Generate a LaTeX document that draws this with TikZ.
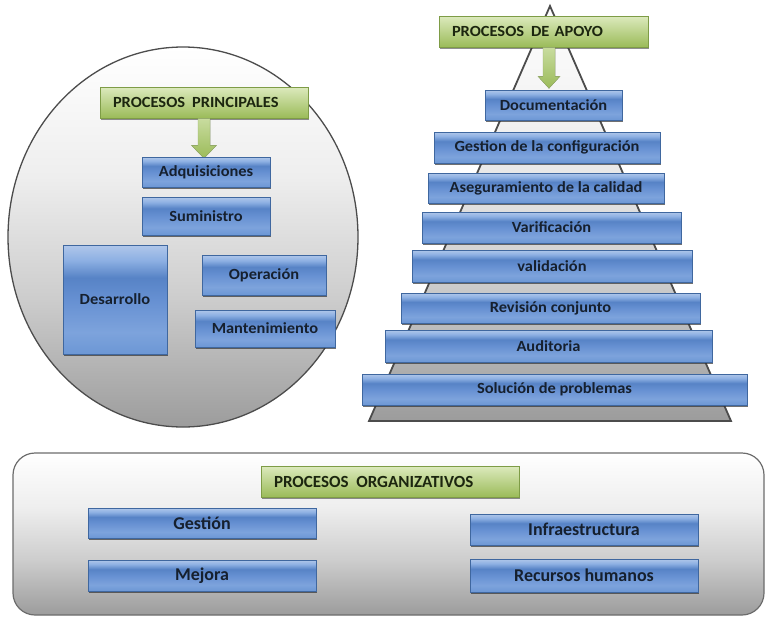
\documentclass[tikz,border=0pt]{standalone}
\usepackage{fontspec}
\setmainfont{Carlito}
\newfontfamily\widefont[FakeStretch=1.06]{Carlito}
\usetikzlibrary{shadows}

\definecolor{bandtop}{HTML}{B0C7EA}
\definecolor{bandhi}{HTML}{8DB0E3}
\definecolor{banddark}{HTML}{5783C6}
\definecolor{bandmid}{HTML}{6690D2}
\definecolor{bandlight}{HTML}{7DA3DC}
\definecolor{bandbot}{HTML}{6C97D5}
\definecolor{blueedge}{HTML}{3F679F}
\definecolor{greentop}{HTML}{DCEABD}
\definecolor{greenbot}{HTML}{9BBB59}
\definecolor{greenedge}{HTML}{7E9C46}
\definecolor{labelink}{HTML}{16202E}
\definecolor{headink}{HTML}{1C260F}
\definecolor{outline}{HTML}{4C4C4C}
\definecolor{lowgray}{HTML}{9C9C9C}
\definecolor{softgray}{HTML}{CDCDCD}
\definecolor{palegray}{HTML}{EEEEEE}

% glossy bar used by every process box (stops sit in the 25--75bp band)
\pgfdeclareverticalshading{bluebar}{100bp}{%
  color(0bp)=(bandbot); color(25bp)=(bandbot); color(35bp)=(bandlight);
  color(50bp)=(bandmid); color(60bp)=(banddark); color(68bp)=(bandhi);
  color(75bp)=(bandtop); color(100bp)=(bandtop)}
% light-to-grey fade of the three background panels
\pgfdeclareverticalshading{panelfade}{100bp}{%
  color(0bp)=(lowgray); color(25bp)=(lowgray); color(42bp)=(softgray);
  color(58bp)=(palegray); color(75bp)=(white); color(100bp)=(white)}

\tikzset{
  procbox/.style={draw=blueedge, line width=0.6pt, shade, shading=bluebar,
    drop shadow={shadow xshift=1.2pt, shadow yshift=-2pt, fill=black!80, opacity=0.7},
    inner sep=0pt, text=labelink, font=\widefont\bfseries\fontsize{15.5}{18}\selectfont},
  orgbox/.style={procbox, font=\bfseries\fontsize{18}{21}\selectfont},
  header/.style={draw=greenedge, line width=0.6pt, top color=greentop, bottom color=greenbot,
    drop shadow={shadow xshift=1.2pt, shadow yshift=-2pt, fill=black!80, opacity=0.55},
    inner xsep=13pt, inner ysep=0pt, align=left, text=headink,
    font=\widefont\bfseries\fontsize{15.5}{18}\selectfont},
  orghead/.style={header, font=\bfseries\fontsize{17}{20}\selectfont},
  blockarrow/.style={top color=greentop!70!greenbot, bottom color=greenbot, draw=greenedge!80, line width=0.4pt},
  panel/.style={draw=outline, line width=1.3pt, shade, shading=panelfade},
}
\newcommand{\gap}{\hspace{0.45em}}

\begin{document}
\begin{tikzpicture}[x=1pt,y=-1pt]
\useasboundingbox (0,0) rectangle (766,619);

% ---- main processes: round panel ----
\path[panel] (183,237) ellipse [x radius=175pt, y radius=190pt];

\node[header, text width=182pt, minimum height=31pt] (pp) at (204,102.5) {PROCESOS\gap PRINCIPALES};
\fill[blockarrow, shift={(pp.south)}]
  (-6,0) -- (-6,27) -- (-12.5,27) -- (0,40) -- (12.5,27) -- (6,27) -- (6,0) -- cycle;

\node[procbox, minimum width=128pt, minimum height=30pt]  (adq) at (206,172)   {Adquisiciones};
\node[procbox, minimum width=128pt, minimum height=38pt]  (sum) at (206,216)   {Suministro};
\node[procbox, minimum width=104pt, minimum height=109pt] (des) at (115,299.5) {Desarrollo};
\node[procbox, minimum width=124pt, minimum height=40pt]  (ope) at (264,275)   {Operación};
\node[procbox, minimum width=140pt, minimum height=37pt]  (man) at (265,328.5) {Mantenimiento};

% ---- support processes: stepped pyramid ----
\path[panel, line width=1.8pt] (550,6) -- (731,421) -- (369,421) -- cycle;

\node[header, text width=183pt, minimum height=31pt] (pa) at (543.5,31.5) {PROCESOS\gap DE APOYO};
\fill[blockarrow, shift={(pa.south)}]
  (-0.5,0) -- (-0.5,29) -- (-5.5,29) -- (5.5,41) -- (16.5,29) -- (11.5,29) -- (11.5,0) -- cycle;

\node[procbox, minimum width=137pt, minimum height=30pt] (doc) at (553.5,105)   {Documentación};
\node[procbox, minimum width=226pt, minimum height=31pt] (gco) at (547,147.5)   {Gestion de la configuración};
\node[procbox, minimum width=236pt, minimum height=30pt] (ase) at (546,188)     {Aseguramiento de la calidad};
\node[procbox, minimum width=259pt, minimum height=31pt] (var) at (551.5,227.5) {Varificación};
\node[procbox, minimum width=280pt, minimum height=32pt] (val) at (552,266)     {validación};
\node[procbox, minimum width=299pt, minimum height=30pt] (rev) at (550.5,308)   {Revisión conjunto};
\node[procbox, minimum width=327pt, minimum height=32pt] (aud) at (548.5,346)   {Auditoria};
\node[procbox, minimum width=385pt, minimum height=31pt] (sol) at (554.5,389.5) {Solución de problemas};

% ---- organisational processes: rounded band ----
\path[panel, draw=gray!85!black, line width=1.2pt, rounded corners=22pt] (13,453) rectangle (764,615);

\node[orghead, text width=232pt, minimum height=31pt] (po) at (390,481.5) {PROCESOS\gap ORGANIZATIVOS};

\node[orgbox, minimum width=228pt, minimum height=30pt] (ges) at (202,523)   {Gestión};
\node[orgbox, minimum width=228pt, minimum height=31pt] (mej) at (202,575.5) {Mejora};
\node[orgbox, minimum width=228pt, minimum height=31pt] (inf) at (584,529.5) {Infraestructura};
\node[orgbox, minimum width=228pt, minimum height=33pt] (rec) at (584,575.5) {Recursos humanos};
\end{tikzpicture}
\end{document}
